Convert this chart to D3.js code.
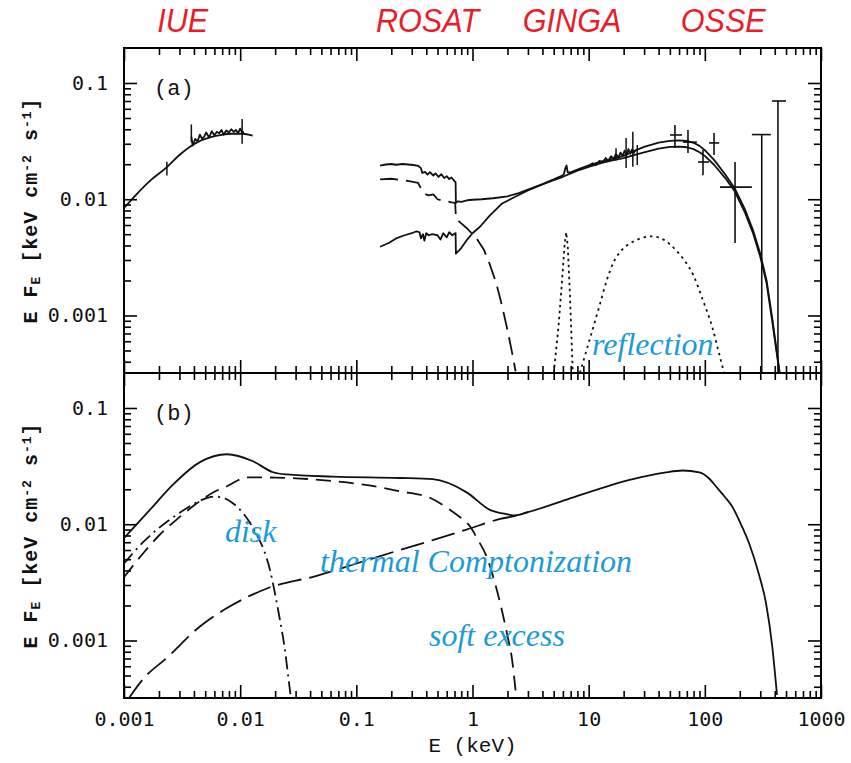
<!DOCTYPE html>
<html>
<head>
<meta charset="utf-8">
<script src="https://cdn.jsdelivr.net/npm/d3@7"></script>
<style>
body { margin: 0; background: #fff; }
</style>
</head>
<body>
<div id="chart"></div>
<script>
// Broad-band spectrum, E F_E vs E (keV), two panels

// instrument labels along the top
const instruments = ['IUE', 'ROSAT', 'GINGA', 'OSSE'];
const instrumentE = [0.0032, 0.41, 7.2, 144];

// axis ticks
const xMajor = [0.001, 0.01, 0.1, 1, 10, 100, 1000];
const yMajor = [0.001, 0.01, 0.1];
const yDomain = [3.2e-4, 0.2];

// ---- panel (a) ----
const iueModel = [[0.001,0.0084],[0.0013,0.0112],[0.0017,0.0146],[0.00234,0.0189],[0.003,0.0240],[0.0037,0.0283],
  [0.0043,0.0310],[0.0055,0.0340],[0.0067,0.0356],[0.0085,0.0366],[0.0105,0.0366],[0.0128,0.0352]];

const iueData = [[0.0038,0.0345],[0.0039,0.0290],[0.0041,0.0330],[0.0043,0.0315],[0.0045,0.0360],[0.0047,0.0330],
  [0.0049,0.0345],[0.0051,0.0375],[0.0054,0.0340],[0.0057,0.0385],[0.0060,0.0355],[0.0063,0.0380],[0.0066,0.0370],
  [0.0069,0.0395],[0.0072,0.0360],[0.0076,0.0390],[0.0080,0.0375],[0.0084,0.0400],[0.0088,0.0380],[0.0092,0.0395],
  [0.0096,0.0370],[0.0100,0.0405],[0.0104,0.0375],[0.0108,0.0380]];

// [E, low, high]
const iueErrors = [[0.00234,0.0160,0.0210],[0.0038,0.031,0.044],[0.0104,0.030,0.049]];

const totalA = [[0.16,0.0195],[0.18,0.0199],[0.2,0.0201],[0.22,0.0198],[0.25,0.0201],[0.28,0.0199],[0.31,0.0197],
  [0.34,0.0194],[0.36,0.0185],[0.37,0.0168],[0.39,0.0172],[0.41,0.0163],[0.43,0.0171],[0.46,0.0160],[0.48,0.0167],
  [0.51,0.0156],[0.54,0.0164],[0.57,0.0152],[0.6,0.0158],[0.63,0.0149],[0.66,0.0154],[0.7,0.0143],[0.715,0.0140],
  [0.72,0.0093],[0.75,0.0096],[0.8,0.0095],[0.9,0.0098],[1.0,0.0099],[1.2,0.0100],[1.5,0.0102],[2.0,0.0106],
  [2.5,0.0113],[3,0.0121],[4,0.0135],[5,0.0148],[5.8,0.0158],[6.1,0.0163],[6.3,0.0185],[6.45,0.0195],[6.6,0.0170],
  [7,0.0170],[8,0.0180],[10,0.0196],[13,0.0212],[16,0.0222],[20,0.0236],[25,0.0262],[30,0.0282],[40,0.0307],
  [50,0.0318],[60,0.0321],[70,0.0317],[80,0.0306],[90,0.0288],[100,0.0264],[120,0.0218],[150,0.0163],[180,0.0125],
  [220,0.0083],[260,0.0054],[300,0.0034],[340,0.0020],[380,0.00095],[420,0.00046],[445,0.00030]];

const comptA = [[0.16,0.0039],[0.19,0.0042],[0.22,0.0046],[0.26,0.0049],[0.3,0.0051],[0.33,0.0053],[0.35,0.0052],
  [0.36,0.0046],[0.375,0.0050],[0.385,0.0044],[0.4,0.0051],[0.42,0.0049],[0.45,0.0050],[0.5,0.0049],[0.53,0.0045],
  [0.56,0.0051],[0.6,0.0047],[0.63,0.0052],[0.67,0.0049],[0.71,0.0051],[0.715,0.0051],[0.72,0.0034],[0.8,0.0038],
  [0.9,0.0045],[1.0,0.0051],[1.16,0.0058],[1.4,0.0072],[1.8,0.0092],[2.2,0.0102],[2.6,0.0111],[3,0.0119],[4,0.0134],
  [5,0.0146],[6,0.0156],[8,0.0176],[10,0.0190],[13,0.0205],[16,0.0216],[20,0.0226],[25,0.0241],[30,0.0253],
  [40,0.0272],[50,0.0282],[60,0.0284],[70,0.0280],[80,0.0270],[90,0.0254],[100,0.0236],[120,0.0198],[150,0.0152],
  [180,0.0118],[220,0.0078],[260,0.0051],[300,0.0032],[340,0.0019],[380,0.00090],[420,0.00044],[445,0.00029]];

const softA = [[0.16,0.0148],[0.2,0.0150],[0.25,0.0146],[0.3,0.0142],[0.34,0.0138],[0.38,0.0112],[0.42,0.0108],
  [0.46,0.0110],[0.5,0.0100],[0.55,0.0097],[0.6,0.0096],[0.66,0.0094],[0.71,0.0093],[0.72,0.0068],[0.8,0.0062],
  [0.9,0.0056],[1.0,0.0050],[1.1,0.0045],[1.25,0.0037],[1.4,0.0028],[1.6,0.0019],[1.8,0.0012],[2.0,0.00075],
  [2.2,0.00047],[2.35,0.00033]];

const reflA = [[8.4,0.00032],[10.2,0.00062],[12.5,0.00125],[14.3,0.0020],[16.2,0.0028],[19,0.0036],[24,0.0043],
  [30,0.0047],[35,0.0048],[42,0.0046],[50,0.0041],[57,0.0036],[68,0.0029],[80,0.0022],[95,0.0014],[116,0.00079],
  [132,0.00048],[149,0.00030]];

const ironLine = [[5.0,0.00032],[5.5,0.0008],[5.9,0.0020],[6.2,0.0040],[6.4,0.0052],[6.6,0.0040],[6.9,0.0015],[7.3,0.00032]];

const gingaData = [[10,0.0192],[10.8,0.0204],[11.6,0.0197],[12.4,0.0214],[13.2,0.0208],[14,0.0226],[14.8,0.0215],
  [15.6,0.0234],[16.4,0.0222],[17.2,0.0245],[18,0.0228],[18.8,0.0252],[19.6,0.0235],[20.4,0.0262],[21.2,0.0240],
  [22,0.0270],[22.8,0.0246],[23.6,0.0268],[24.4,0.0250],[25.2,0.0262]];

// [E, low, high]
const gingaErrors = [[17.2,0.0215,0.0275],[21,0.0186,0.0336],[24,0.019,0.038],[26.2,0.0197,0.0293]];

// [E, F, Flow, Fhigh, Elow, Ehigh]
const osseData = [[55.3,0.0357,0.0276,0.0435,50.1,63.6],[71.6,0.0310,0.0250,0.0394,64.9,85.5],
  [96.4,0.0209,0.0161,0.0265,87.3,108.7],[120,0.0305,0.0240,0.0372,108.7,133],
  [182,0.0127,0.0042,0.0209,135,254],[309,0.036,0.0001,0.036,254,370],[426,0.070,0.0001,0.070,378,500]];

// ---- panel (b) ----
const totalB = [[0.001,0.0076],[0.00167,0.0133],[0.00264,0.0219],[0.00451,0.0342],[0.0077,0.0400],[0.0129,0.0348],
  [0.0192,0.0280],[0.0253,0.0268],[0.0627,0.0257],[0.237,0.0250],[0.455,0.0244],[0.89,0.0188],[1.41,0.0133],
  [1.97,0.0122],[2.32,0.0119],[3,0.0127],[6.47,0.0163],[24,0.0244],[45,0.0278],[64.3,0.0290],[89.7,0.0279],
  [110,0.0245],[125,0.0211],[150,0.0170],[172,0.0142],[200,0.0105],[240,0.0069],[290,0.0038],[336,0.0021],
  [380,0.0009],[418,0.00034]];

const softB = [[0.001,0.0035],[0.0015,0.0058],[0.002,0.0080],[0.003,0.0115],[0.004,0.0145],[0.005,0.0170],
  [0.006,0.0190],[0.0077,0.0212],[0.0095,0.0238],[0.0114,0.0253],[0.02,0.0252],[0.0627,0.0235],[0.12,0.0218],
  [0.237,0.0192],[0.43,0.0169],[0.64,0.0133],[0.8,0.0113],[0.95,0.0096],[1.1,0.0075],[1.33,0.0052],[1.55,0.0032],
  [1.73,0.0021],[2.0,0.0011],[2.18,0.00071],[2.4,0.0003]];

const diskB = [[0.001,0.0046],[0.0015,0.0072],[0.002,0.0093],[0.003,0.0125],[0.004,0.0150],[0.005,0.0166],
  [0.006,0.0173],[0.007,0.0170],[0.008,0.0160],[0.009,0.0147],[0.010,0.0133],[0.012,0.0105],[0.014,0.0080],
  [0.016,0.0060],[0.018,0.0041],[0.020,0.0025],[0.022,0.0015],[0.024,0.0009],[0.026,0.00048],[0.028,0.00026]];

const comptB = [[0.00108,0.00031],[0.0015,0.00048],[0.00234,0.00071],[0.0045,0.00132],[0.0077,0.0019],
  [0.017,0.0028],[0.0456,0.0036],[0.123,0.0049],[0.237,0.0060],[0.455,0.0073],[0.89,0.0090],[1.73,0.0111],
  [2.32,0.0118],[3,0.0127]];

// annotations: [text, panel, E, F]
const annotations = [['reflection', 'a', 10.7, 0.00046], ['disk', 'b', 0.0074, 0.0070],
  ['thermal Comptonization', 'b', 0.0487, 0.0039], ['soft excess', 'b', 0.422, 0.00090]];

const width = 851;
const height = 763;
const panelHeight = 325;
const panelTops = { a: 48, b: 373 };

const svg = d3.select('#chart')
    .append('svg')
    .attr('width', width)
    .attr('height', height);

const x = d3.scaleLog().domain([0.001, 1000]).range([124, 821]);
const plotW = x.range()[1] - x.range()[0];

// minor tick values
const xMinor = [];
for (let d = 0.001; d < 999; d *= 10) {
    for (let k = 2; k <= 9; k++) xMinor.push(+(k * d).toPrecision(3));
}
const yMinor = [];
[1e-4, 1e-3, 1e-2, 1e-1].forEach(d => {
    for (let k = 2; k <= 9; k++) {
        const v = +(k * d).toPrecision(3);
        if (v > yDomain[0] && v < yDomain[1]) yMinor.push(v);
    }
});

function styleAxis(g) {
    g.select('.domain').remove();
    g.selectAll('line').attr('stroke', '#000').attr('stroke-width', 1.6);
    g.selectAll('text')
        .attr('font-family', '"DejaVu Sans Mono", monospace')
        .attr('font-size', 20)
        .attr('fill', '#111');
}

function drawPanel(key, bottomLabels) {
    const top = panelTops[key];
    const y = d3.scaleLog().domain(yDomain).range([top + panelHeight, top]);
    const g = svg.append('g');
    const blank = () => '';

    // x ticks, bottom and top, pointing inward
    [[xMajor, 13], [xMinor, 7]].forEach(([vals, len], i) => {
        g.append('g')
            .attr('transform', `translate(0,${top + panelHeight})`)
            .call(d3.axisBottom(x).tickValues(vals).tickSize(-len).tickPadding(14)
                .tickFormat(bottomLabels && i === 0 ? d => String(d) : blank))
            .call(styleAxis);
        g.append('g')
            .attr('transform', `translate(0,${top})`)
            .call(d3.axisTop(x).tickValues(vals).tickSize(-len).tickFormat(blank))
            .call(styleAxis);
    });

    // y ticks, left and right
    [[yMajor, 13], [yMinor, 7]].forEach(([vals, len], i) => {
        g.append('g')
            .attr('transform', `translate(${x.range()[0]},0)`)
            .call(d3.axisLeft(y).tickValues(vals).tickSize(-len).tickPadding(16)
                .tickFormat(i === 0 ? d => String(d) : blank))
            .call(styleAxis);
        g.append('g')
            .attr('transform', `translate(${x.range()[1]},0)`)
            .call(d3.axisRight(y).tickValues(vals).tickSize(-len).tickFormat(blank))
            .call(styleAxis);
    });

    // frame
    g.append('rect')
        .attr('x', x.range()[0])
        .attr('y', top)
        .attr('width', plotW)
        .attr('height', panelHeight)
        .attr('fill', 'none')
        .attr('stroke', '#000')
        .attr('stroke-width', 2);

    // panel label
    g.append('text')
        .attr('x', x.range()[0] + 30)
        .attr('y', top + 47)
        .attr('font-family', '"Liberation Mono", monospace')
        .attr('font-size', 22)
        .attr('fill', '#111')
        .text(`(${key})`);

    // y axis title
    const title = g.append('text')
        .attr('transform', `translate(37,${top + panelHeight / 2}) rotate(-90)`)
        .attr('text-anchor', 'middle')
        .attr('font-family', '"Liberation Mono", monospace')
        .attr('font-weight', 'bold')
        .attr('font-size', 20)
        .attr('letter-spacing', 1)
        .attr('fill', '#111');
    title.append('tspan').text('E F');
    title.append('tspan').attr('font-size', 13).attr('baseline-shift', '-25%').text('E');
    title.append('tspan').text(' [keV cm');
    title.append('tspan').attr('font-size', 13).attr('baseline-shift', '45%').text('-2');
    title.append('tspan').text(' s');
    title.append('tspan').attr('font-size', 13).attr('baseline-shift', '45%').text('-1');
    title.append('tspan').text(']');

    // clipped plotting area
    svg.append('clipPath')
        .attr('id', 'clip-' + key)
        .append('rect')
        .attr('x', x.range()[0])
        .attr('y', top)
        .attr('width', plotW)
        .attr('height', panelHeight);
    const plot = svg.append('g').attr('clip-path', `url(#clip-${key})`);

    return { y, plot };
}

function addLine(plot, y, data, dash, curve) {
    const line = d3.line()
        .x(d => x(d[0]))
        .y(d => y(d[1]))
        .curve(curve || d3.curveLinear);
    plot.append('path')
        .datum(data)
        .attr('d', line)
        .attr('fill', 'none')
        .attr('stroke', '#111')
        .attr('stroke-width', 1.8)
        .attr('stroke-linejoin', 'round')
        .attr('stroke-dasharray', dash);
}

// ---- panel (a) ----
const pa = drawPanel('a', false);
addLine(pa.plot, pa.y, iueModel, null, d3.curveMonotoneX);
addLine(pa.plot, pa.y, iueData, null);
addLine(pa.plot, pa.y, totalA, null);
addLine(pa.plot, pa.y, comptA, null);
addLine(pa.plot, pa.y, softA, '18,8');
addLine(pa.plot, pa.y, reflA, '2.5,4', d3.curveMonotoneX);
addLine(pa.plot, pa.y, ironLine, '2.5,3.5');
addLine(pa.plot, pa.y, gingaData, null);

// vertical error bars
pa.plot.selectAll('.ebar')
    .data(iueErrors.concat(gingaErrors))
    .enter()
    .append('line')
    .attr('x1', d => x(d[0]))
    .attr('x2', d => x(d[0]))
    .attr('y1', d => pa.y(d[1]))
    .attr('y2', d => pa.y(d[2]))
    .attr('stroke', '#111')
    .attr('stroke-width', 1.5);

// OSSE crosses
const osse = pa.plot.selectAll('.osse')
    .data(osseData)
    .enter()
    .append('g');
osse.append('line')
    .attr('x1', d => x(d[0]))
    .attr('x2', d => x(d[0]))
    .attr('y1', d => pa.y(d[2]))
    .attr('y2', d => pa.y(d[3]))
    .attr('stroke', '#111')
    .attr('stroke-width', 1.6);
osse.append('line')
    .attr('x1', d => x(d[4]))
    .attr('x2', d => x(d[5]))
    .attr('y1', d => pa.y(d[1]))
    .attr('y2', d => pa.y(d[1]))
    .attr('stroke', '#111')
    .attr('stroke-width', 1.6);

// ---- panel (b) ----
const pb = drawPanel('b', true);
addLine(pb.plot, pb.y, totalB, null, d3.curveMonotoneX);
addLine(pb.plot, pb.y, softB, '15,8', d3.curveMonotoneX);
addLine(pb.plot, pb.y, diskB, '13,5,2,5', d3.curveMonotoneX);
addLine(pb.plot, pb.y, comptB, '24,8', d3.curveMonotoneX);

// x axis title
svg.append('text')
    .attr('x', (x.range()[0] + x.range()[1]) / 2)
    .attr('y', 752)
    .attr('text-anchor', 'middle')
    .attr('font-family', '"Liberation Mono", monospace')
    .attr('font-size', 21)
    .attr('fill', '#111')
    .text('E (keV)');

// instrument names in red
svg.selectAll('.instrument')
    .data(instruments)
    .enter()
    .append('text')
    .attr('transform', (d, i) => `translate(${x(instrumentE[i])},32) scale(0.9,1)`)
    .attr('text-anchor', 'middle')
    .attr('font-family', '"Liberation Sans", Arial, sans-serif')
    .attr('font-style', 'italic')
    .attr('font-size', 34)
    .attr('fill', '#ea1c2a')
    .text(d => d);

// blue component labels
svg.selectAll('.note')
    .data(annotations)
    .enter()
    .append('text')
    .attr('x', d => x(d[2]))
    .attr('y', d => (d[1] === 'a' ? pa.y : pb.y)(d[3]))
    .attr('font-family', '"Liberation Serif", "Times New Roman", serif')
    .attr('font-style', 'italic')
    .attr('font-size', 32)
    .attr('fill', '#1b9bd7')
    .text(d => d[0]);
</script>
</body>
</html>
